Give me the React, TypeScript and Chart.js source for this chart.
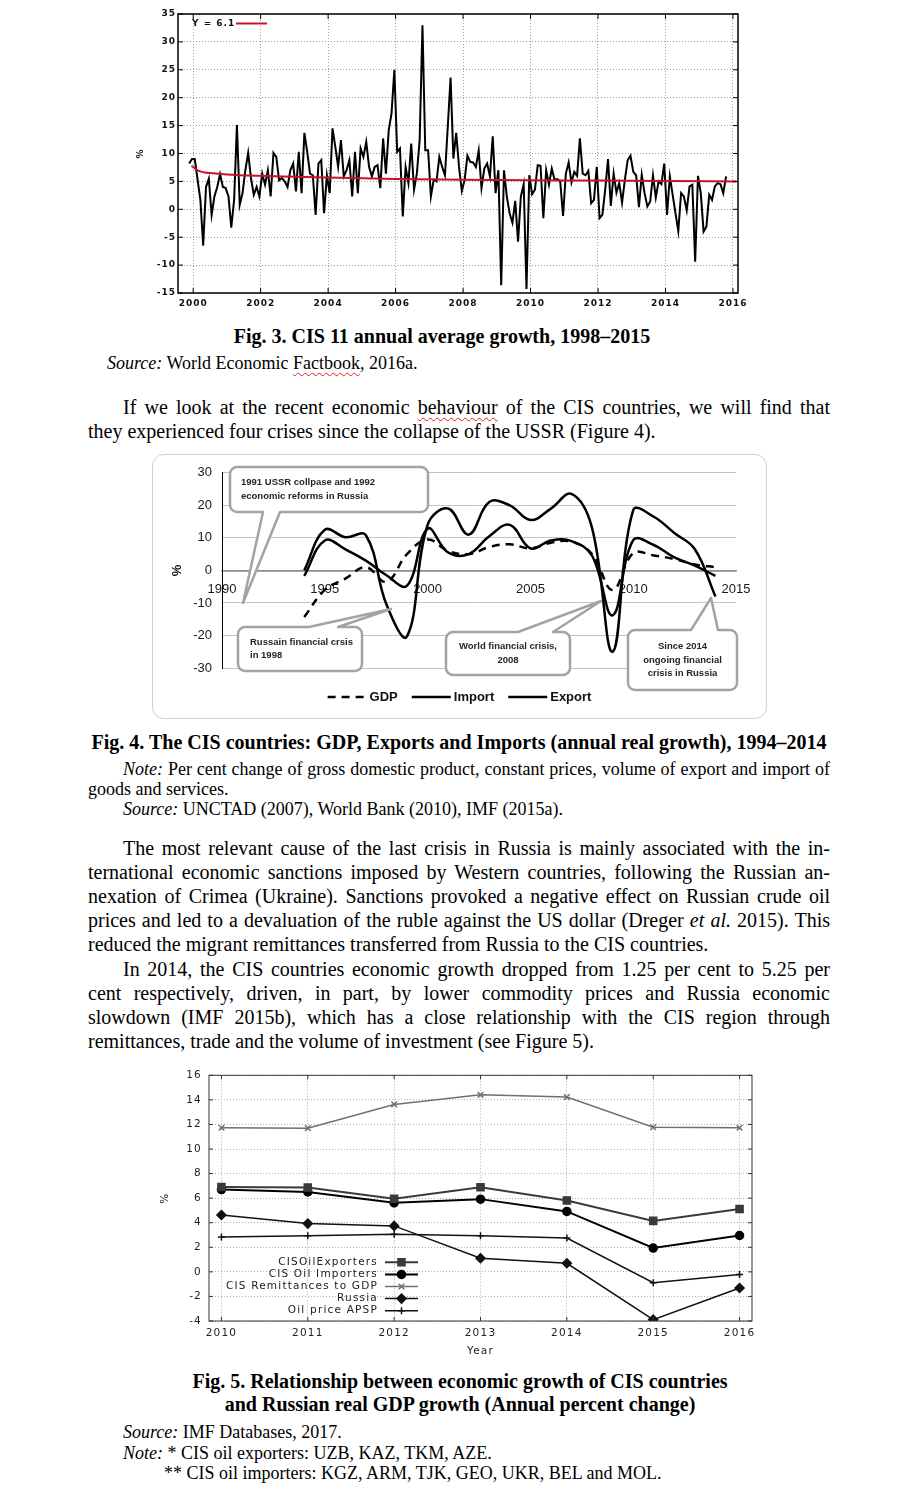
import React, { useEffect, useRef } from 'react';
import { Chart, registerables } from 'chart.js';
import { drawPoint } from 'chart.js/helpers';

Chart.register(...registerables);

/* ================= Fig. 3 data ================= */
const fig3StartYear = 1999.88;
const fig3MonthlyGrowth = [
  8.2, 9.0, 9.0, 5.3, 1.7, -6.5, 4.0, 5.5, -1.0, 2.3, 4.0, 6.3, 4.0, 3.8, 2.3, -3.3, 1.7, 15.1, 0.8, 2.9,
  7.0, 10.1, 5.6, 2.6, 4.0, 2.3, 6.4, 4.4, 7.0, 2.3, 10.1, 9.4, 5.2, 5.6, 5.0, 4.0, 7.0, 8.2, 3.2, 10.3,
  2.9, 13.7, 10.3, 6.4, 6.1, -1.0, 8.2, 8.8, -0.7, 6.1, 2.9, 14.5, 11.2, 7.6, 12.4, 5.9, 7.0, 8.8, 2.3, 10.3,
  2.9, 10.9, 9.4, 12.1, 7.6, 5.9, 7.6, 7.9, 3.8, 12.7, 6.4, 14.2, 17.2, 25.0, 10.3, 10.9, -1.3, 7.6, 4.7, 11.8,
  3.5, 6.4, 12.4, 33.0, 10.6, 10.6, 2.3, 5.3, 5.0, 9.4, 7.6, 6.1, 14.8, 23.6,
  9.1, 13.7, 7.6, 3.3, 5.3, 9.6, 8.5, 8.4, 7.6, 10.5, 3.8, 7.3, 8.2, 5.9, 13.1, 2.9, 7.0, -13.6, 7.0, 2.3,
  -0.7, -2.4, 1.5, -5.8, 2.3, 4.5, -14.3, 6.1, 2.7, 3.5, 7.9, 7.8, -1.6, 7.0, 4.4, 7.3, 5.3, 5.4, 5.0, -1.2,
  6.4, 8.4, 4.8, 6.7, 6.0, 12.7, 6.4, 6.1, 6.9, 1.1, 1.7, 7.6, -1.6, -1.0, 3.5, 9.0, 0.6, 6.4, 3.0, 4.7,
  1.2, 5.3, 8.8, 9.6, 6.7, 6.1, 0.4, 6.2, 2.9, 0.5, 1.4, 6.1, 2.1, 5.0, 4.5, 8.2, -1.0, 5.9, 2.6, -0.7,
  -3.9, 2.9, 2.3, -0.2, 4.1, 4.4, -9.4, 6.0, 2.9, -4.0, -3.1, 2.6, 1.7, 4.1, 4.7, 4.5, 2.9, 5.9,
];
const fig3TrendYears = [1999.95, 2000.12, 2000.3, 2000.6, 2001, 2002, 2003, 2004, 2006, 2008, 2010, 2012, 2014, 2016.1];
const fig3TrendValues = [7.8, 7.0, 6.65, 6.45, 6.25, 6.0, 5.85, 5.7, 5.45, 5.3, 5.2, 5.15, 5.05, 5.0];
const fig3TrendLabel = 'Y = 6.1';
const fig3XTicks = [2000, 2002, 2004, 2006, 2008, 2010, 2012, 2014, 2016];
const fig3YTicks = [-15, -10, -5, 0, 5, 10, 15, 20, 25, 30, 35];

/* ================= Fig. 4 data ================= */
const fig4Years = [1994, 1995, 1996, 1997, 1998, 1999, 2000, 2001, 2002, 2003, 2004, 2005, 2006, 2007, 2008, 2009, 2010, 2011, 2012, 2013, 2014];
const fig4Gdp = [-14.3, -6.0, -2.5, 1.0, -3.5, 5.0, 9.5, 6.0, 5.0, 7.2, 8.0, 6.8, 8.5, 8.8, 5.0, -6.0, 5.3, 4.6, 3.5, 1.8, 1.0];
const fig4Import = [0, 12.5, 10.2, 10.8, -10.5, -20.3, 14, 19, 11, 21, 20, 15.5, 19, 23.5, 13, -25, 18.5, 16.5, 11.5, 6.5, -8];
const fig4Export = [-1.7, 9.2, 6.5, 3.0, -1.5, -4.7, 12.8, 5.5, 5.0, 10.5, 14.0, 6.8, 9.2, 9.0, 4.5, -13.8, 9.3, 7.8, 4.0, 1.5, -1.7];
const fig4XTicks = [1990, 1995, 2000, 2005, 2010, 2015];
const fig4YTicks = [-30, -20, -10, 0, 10, 20, 30];
const fig4CalloutTexts = [
  ['1991 USSR collpase and 1992', 'economic reforms in Russia'],
  ['Russain financial crsis', 'in 1998'],
  ['World financial crisis,', '2008'],
  ['Since 2014', 'ongoing financial', 'crisis in Russia'],
];

/* ================= Fig. 5 data ================= */
const fig5Years = [2010, 2011, 2012, 2013, 2014, 2015, 2016];
const fig5OilExporters = [6.91, 6.86, 5.95, 6.89, 5.81, 4.15, 5.11];
const fig5OilImporters = [6.70, 6.51, 5.62, 5.92, 4.92, 1.94, 2.96];
const fig5Remittances = [11.73, 11.70, 13.63, 14.41, 14.23, 11.78, 11.73];
const fig5Russia = [4.63, 3.93, 3.74, 1.11, 0.70, -3.89, -1.31];
const fig5OilPrice = [2.83, 2.94, 3.07, 2.94, 2.75, -0.88, -0.21];
const fig5YTicks = [-4, -2, 0, 2, 4, 6, 8, 10, 12, 14, 16];

/* ================= helpers ================= */
const toPts = (xs: number[], ys: number[]) => xs.map((x, i) => ({ x, y: ys[i] }));
const fixedTicks = (values: number[]) => (s: any) => {
  s.ticks = values.map((value) => ({ value }));
};

function gnuplotFrame(id: string, frameColor: string, frameWidth: number, tickLen: number, spacing: string, extra?: (c: any) => void) {
  return {
    id,
    beforeDraw(chart: any) {
      chart.ctx.letterSpacing = spacing;
    },
    afterDraw(chart: any) {
      const { ctx, chartArea: a, scales } = chart;
      ctx.save();
      ctx.setLineDash([]);
      ctx.strokeStyle = frameColor;
      ctx.lineWidth = 1;
      ctx.beginPath();
      scales.y.ticks.forEach((t: any) => {
        const y = scales.y.getPixelForValue(t.value);
        ctx.moveTo(a.left, y);
        ctx.lineTo(a.left + tickLen, y);
        ctx.moveTo(a.right, y);
        ctx.lineTo(a.right - tickLen, y);
      });
      scales.x.ticks.forEach((t: any) => {
        const x = scales.x.getPixelForValue(t.value);
        ctx.moveTo(x, a.bottom);
        ctx.lineTo(x, a.bottom - tickLen);
        ctx.moveTo(x, a.top);
        ctx.lineTo(x, a.top + tickLen);
      });
      ctx.stroke();
      ctx.lineWidth = frameWidth;
      ctx.strokeRect(a.left, a.top, a.right - a.left, a.bottom - a.top);
      ctx.restore();
      if (extra) extra(chart);
      ctx.letterSpacing = '0px';
    },
  };
}

/* ================= Fig. 3 config ================= */
function fig3Config(): any {
  const font = { family: "'DejaVu Sans', sans-serif", size: 9, weight: 'bold' };
  const grid = { color: '#a0a0a0', lineWidth: 1, drawTicks: false, borderDash: [1, 2] };
  const border = { display: false, dash: [1, 2] };
  return {
    type: 'line',
    data: {
      datasets: [
        {
          label: fig3TrendLabel,
          data: toPts(fig3TrendYears, fig3TrendValues),
          borderColor: '#c8102e',
          borderWidth: 2,
          pointRadius: 0,
          cubicInterpolationMode: 'monotone',
        },
        {
          label: 'CIS 11 growth',
          data: fig3MonthlyGrowth.map((v, i) => ({ x: fig3StartYear + i / 12, y: v })),
          borderColor: '#000',
          borderWidth: 2,
          pointRadius: 0,
          tension: 0,
        },
      ],
    },
    options: {
      animation: false,
      responsive: true,
      maintainAspectRatio: false,
      layout: { padding: { top: 10, right: 24, left: 0, bottom: 0 } },
      plugins: { legend: { display: false }, tooltip: { enabled: false } },
      scales: {
        x: {
          type: 'linear',
          min: 1999.55,
          max: 2016.15,
          afterBuildTicks: fixedTicks(fig3XTicks),
          afterFit: (s: any) => { s.height = 21; },
          grid,
          border,
          ticks: { font, color: '#111', padding: 5, maxRotation: 0, autoSkip: false, callback: (v: any) => String(v) },
        },
        y: {
          type: 'linear',
          min: -15,
          max: 35,
          afterBuildTicks: fixedTicks(fig3YTicks),
          afterFit: (s: any) => { s.width = 48; },
          grid,
          border,
          ticks: { font, color: '#111', padding: 2, autoSkip: false, callback: (v: any) => String(v) },
          title: { display: true, text: '%', font, color: '#111', padding: { top: 5.6, bottom: 0 } },
        },
      },
    },
    plugins: [
      gnuplotFrame('fig3Frame', '#000', 1.5, 5, '1px', (chart: any) => {
        const { ctx, chartArea: a } = chart;
        const ds = chart.data.datasets[0];
        ctx.save();
        ctx.font = "bold 9px 'DejaVu Sans', sans-serif";
        ctx.fillStyle = '#111';
        ctx.textBaseline = 'middle';
        ctx.textAlign = 'left';
        ctx.fillText(ds.label, a.left + 14, a.top + 9.5);
        ctx.strokeStyle = ds.borderColor;
        ctx.lineWidth = 2;
        ctx.beginPath();
        ctx.moveTo(a.left + 58, a.top + 9.5);
        ctx.lineTo(a.left + 89, a.top + 9.5);
        ctx.stroke();
        ctx.restore();
      }),
    ],
  };
}

/* ================= Fig. 4 config ================= */
function bubblePath(ctx: any, x: number, y: number, w: number, h: number, r: number, side: string, b1: number, b2: number, tx: number, ty: number) {
  ctx.beginPath();
  ctx.moveTo(x + r, y);
  if (side === 'top') {
    ctx.lineTo(b1, y);
    ctx.lineTo(tx, ty);
    ctx.lineTo(b2, y);
  }
  ctx.lineTo(x + w - r, y);
  ctx.arcTo(x + w, y, x + w, y + r, r);
  ctx.lineTo(x + w, y + h - r);
  ctx.arcTo(x + w, y + h, x + w - r, y + h, r);
  if (side === 'bottom') {
    ctx.lineTo(b2, y + h);
    ctx.lineTo(tx, ty);
    ctx.lineTo(b1, y + h);
  }
  ctx.lineTo(x + r, y + h);
  ctx.arcTo(x, y + h, x, y + h - r, r);
  ctx.lineTo(x, y + r);
  ctx.arcTo(x, y, x + r, y, r);
  ctx.closePath();
}

const fig4Decor = {
  id: 'fig4Decor',
  afterDatasetsDraw(chart: any) {
    const { ctx } = chart;
    // geometry of the four annotation bubbles (canvas pixels)
    const geo = [
      { x: 77, y: 12, w: 198, h: 45, side: 'bottom', b1: 110, b2: 127, tx: 90, ty: 148, align: 'left', pad: 11 },
      { x: 85, y: 172, w: 124, h: 44, side: 'top', b1: 156, b2: 185, tx: 238, ty: 154, align: 'left', pad: 12 },
      { x: 293, y: 177, w: 124, h: 43, side: 'top', b1: 365, b2: 400, tx: 448, ty: 146, align: 'center', pad: 0 },
      { x: 475, y: 175, w: 109, h: 60, side: 'top', b1: 538, b2: 565, tx: 558, ty: 143, align: 'center', pad: 0 },
    ];
    ctx.save();
    geo.forEach((g, i) => {
      bubblePath(ctx, g.x, g.y, g.w, g.h, 7, g.side, g.b1, g.b2, g.tx, g.ty);
      ctx.fillStyle = '#fff';
      ctx.fill();
      ctx.setLineDash([]);
      ctx.lineWidth = 2.5;
      ctx.strokeStyle = '#a3a3a3';
      ctx.lineJoin = 'round';
      ctx.stroke();
      const lines = fig4CalloutTexts[i];
      ctx.font = "bold 9.5px 'Liberation Sans', Arial, sans-serif";
      ctx.fillStyle = '#262626';
      ctx.textBaseline = 'middle';
      ctx.textAlign = g.align === 'left' ? 'left' : 'center';
      const gap = 13.5;
      const cy = g.y + g.h / 2 - ((lines.length - 1) * gap) / 2;
      const tx = g.align === 'left' ? g.x + g.pad : g.x + g.w / 2;
      lines.forEach((t, k) => ctx.fillText(t, tx, cy + k * gap));
    });
    ctx.restore();
  },
  afterDraw(chart: any) {
    const { ctx, width, chartArea } = chart;
    ctx.save();
    ctx.font = "bold 13px 'Liberation Sans', Arial, sans-serif";
    ctx.fillStyle = '#111';
    ctx.textBaseline = 'middle';
    ctx.textAlign = 'left';
    const lineLen = 39;
    const gap = 3;
    const sep = 14;
    const items = chart.data.datasets.map((ds: any) => ({ label: ds.label, dash: ds.borderDash || [], w: ctx.measureText(ds.label).width }));
    const total = items.reduce((s: number, it: any) => s + lineLen + gap + it.w, 0) + sep * (items.length - 1);
    let x = width / 2 - total / 2;
    const y = chartArea.bottom + 29;
    items.forEach((it: any) => {
      ctx.setLineDash(it.dash);
      ctx.lineWidth = 2.5;
      ctx.strokeStyle = '#000';
      ctx.beginPath();
      ctx.moveTo(x, y);
      ctx.lineTo(x + lineLen, y);
      ctx.stroke();
      ctx.setLineDash([]);
      ctx.fillText(it.label, x + lineLen + gap, y + 0.5);
      x += lineLen + gap + it.w + sep;
    });
    ctx.restore();
  },
};

function fig4Config(): any {
  const font = { family: "'Liberation Sans', Arial, sans-serif", size: 13 };
  const common = { borderColor: '#000', borderWidth: 2.5, pointRadius: 0, tension: 0.4, fill: false };
  return {
    type: 'line',
    data: {
      datasets: [
        { ...common, label: 'GDP', data: toPts(fig4Years, fig4Gdp), borderDash: [8, 6] },
        { ...common, label: 'Import', data: toPts(fig4Years, fig4Import) },
        { ...common, label: 'Export', data: toPts(fig4Years, fig4Export) },
      ],
    },
    options: {
      animation: false,
      responsive: true,
      maintainAspectRatio: false,
      layout: { padding: { top: 13, right: 30, left: 0, bottom: 50 } },
      plugins: { legend: { display: false }, tooltip: { enabled: false } },
      scales: {
        x: {
          type: 'linear',
          position: { y: 0 },
          min: 1990,
          max: 2015,
          afterBuildTicks: fixedTicks(fig4XTicks),
          grid: { display: false, drawTicks: false },
          border: { display: true, color: '#8c8c8c', width: 1.5 },
          ticks: { font, color: '#1a1a1a', padding: 11, maxRotation: 0, autoSkip: false, callback: (v: any) => String(v) },
        },
        y: {
          type: 'linear',
          min: -30,
          max: 30,
          afterBuildTicks: fixedTicks(fig4YTicks),
          afterFit: (s: any) => { s.width = 69; },
          grid: {
            color: (c: any) => (c.tick && c.tick.value === 0 ? '#8c8c8c' : '#c4c4c4'),
            lineWidth: (c: any) => (c.tick && c.tick.value === 0 ? 1.5 : 1),
            drawTicks: false,
          },
          border: { display: true, color: '#000', width: 1 },
          ticks: { font, color: '#1a1a1a', padding: 10, autoSkip: false, callback: (v: any) => String(v) },
          title: { display: true, text: '%', font: { ...font, weight: 'bold' }, color: '#111', padding: { top: 17, bottom: 0 } },
        },
      },
    },
    plugins: [fig4Decor],
  };
}

/* ================= Fig. 5 config ================= */
function fig5Config(): any {
  const font = { family: "'DejaVu Sans', sans-serif", size: 10.5 };
  const grid = { color: '#b0b0b0', lineWidth: 1, drawTicks: false, borderDash: [1, 2] };
  const border = { display: false, dash: [1, 2] };
  const mk = (label: string, values: number[], color: string, width: number, style: string, radius: number) => ({
    label,
    data: toPts(fig5Years, values),
    borderColor: color,
    backgroundColor: color,
    pointBackgroundColor: color,
    pointBorderColor: color,
    borderWidth: width,
    pointBorderWidth: 1.5,
    pointStyle: style,
    pointRadius: radius,
    tension: 0,
  });
  return {
    type: 'line',
    data: {
      datasets: [
        mk('CISOilExporters', fig5OilExporters, '#3a3a3a', 2, 'rect', 5),
        mk('CIS Oil Importers', fig5OilImporters, '#000000', 2, 'circle', 4),
        mk('CIS Remittances to GDP', fig5Remittances, '#707070', 1.5, 'crossRot', 4),
        mk('Russia', fig5Russia, '#111111', 1.5, 'rectRot', 4.5),
        mk('Oil price APSP', fig5OilPrice, '#111111', 1.5, 'cross', 3.5),
      ],
    },
    options: {
      animation: false,
      responsive: true,
      maintainAspectRatio: false,
      layout: { padding: { top: 11, right: 20, left: 0, bottom: 0 } },
      plugins: { legend: { display: false }, tooltip: { enabled: false } },
      scales: {
        x: {
          type: 'linear',
          min: 2009.856,
          max: 2016.144,
          afterBuildTicks: fixedTicks(fig5Years),
          afterFit: (s: any) => { s.height = 41; },
          grid,
          border,
          ticks: { font, color: '#222', padding: 6, maxRotation: 0, autoSkip: false, callback: (v: any) => String(v) },
          title: { display: true, text: 'Year', font, color: '#222', padding: { top: 0, bottom: 4 } },
        },
        y: {
          type: 'linear',
          min: -4,
          max: 16,
          afterBuildTicks: fixedTicks(fig5YTicks),
          afterFit: (s: any) => { s.width = 69; },
          grid,
          border,
          ticks: { font, color: '#222', padding: 7, autoSkip: false, callback: (v: any) => String(v) },
          title: { display: true, text: '%', font, color: '#222', padding: { top: 19, bottom: 0 } },
        },
      },
    },
    plugins: [
      gnuplotFrame('fig5Frame', '#333', 1, 4, '1.2px', (chart: any) => {
        const { ctx, chartArea: a } = chart;
        ctx.save();
        ctx.font = "10.5px 'DejaVu Sans', sans-serif";
        ctx.textAlign = 'right';
        ctx.textBaseline = 'middle';
        chart.data.datasets.forEach((ds: any, i: number) => {
          const y = a.bottom - 58.7 + i * 12.1;
          ctx.fillStyle = '#222';
          ctx.fillText(ds.label, a.left + 169, y);
          ctx.strokeStyle = ds.borderColor;
          ctx.lineWidth = ds.borderWidth;
          ctx.beginPath();
          ctx.moveTo(a.left + 176, y);
          ctx.lineTo(a.left + 209, y);
          ctx.stroke();
          ctx.fillStyle = ds.pointBackgroundColor;
          ctx.lineWidth = ds.pointBorderWidth;
          drawPoint(ctx, { pointStyle: ds.pointStyle, radius: ds.pointRadius, rotation: 0, borderWidth: ds.pointBorderWidth }, a.left + 192.5, y);
        });
        ctx.restore();
      }),
    ],
  };
}

/* ================= components ================= */
function ChartBox({ config, left, top, width, height }: any) {
  const ref = useRef<HTMLCanvasElement | null>(null);
  useEffect(() => {
    const chart = new Chart(ref.current as HTMLCanvasElement, config());
    return () => chart.destroy();
  }, []);
  return (
    <div style={{ position: 'absolute', left, top, width, height }}>
      <canvas ref={ref} />
    </div>
  );
}

const serif = "'Liberation Serif', 'Times New Roman', Times, serif";
const wavy: React.CSSProperties = {
  textDecorationLine: 'underline',
  textDecorationStyle: 'wavy',
  textDecorationColor: '#e02020',
  textDecorationThickness: '1px',
  textUnderlineOffset: '3px',
};

function Lines({ top, left = 88, width = 742, size = 20, lh = 24, indent = 35, lines, justifyLast = false }: any) {
  return (
    <div style={{ position: 'absolute', top, left, width, fontFamily: serif, fontSize: size, lineHeight: `${lh}px`, color: '#000' }}>
      {lines.map((ln: any, i: number) => (
        <div
          key={i}
          style={{
            textIndent: i === 0 ? indent : 0,
            textAlign: 'justify',
            textAlignLast: i === lines.length - 1 && !justifyLast ? 'left' : 'justify',
            whiteSpace: 'normal',
          }}
        >
          {ln}
        </div>
      ))}
    </div>
  );
}

export default function App() {
  return (
    <div style={{ position: 'absolute', left: 0, top: 0, width: 910, height: 1494, background: '#fff', overflow: 'hidden' }}>
      {/* Fig. 3 */}
      <ChartBox config={fig3Config} left={130} top={4} width={632} height={310} />
      <div style={{ position: 'absolute', top: 324, left: 0, width: 884, textAlign: 'center', fontFamily: serif, fontSize: 20, fontWeight: 'bold', lineHeight: '24px' }}>
        Fig. 3. CIS 11 annual average growth, 1998–2015
      </div>
      <div style={{ position: 'absolute', top: 353, left: 107, fontFamily: serif, fontSize: 18, lineHeight: '20px', whiteSpace: 'nowrap' }}>
        <i>Source:</i> World Economic <span style={wavy}>Factbook</span>, 2016a.
      </div>

      <Lines
        top={395}
        lines={[
          <>If we look at the recent economic <span style={wavy}>behaviour</span> of the CIS countries, we will find that</>,
          <>they experienced four crises since the collapse of the USSR (Figure 4).</>,
        ]}
      />

      {/* Fig. 4 */}
      <div style={{ position: 'absolute', left: 152, top: 454, width: 615, height: 265, boxSizing: 'border-box', border: '1.5px solid #d2d2d2', borderRadius: 12 }} />
      <ChartBox config={fig4Config} left={153} top={455} width={613} height={263} />
      <div style={{ position: 'absolute', top: 730, left: 88, width: 742, textAlign: 'center', fontFamily: serif, fontSize: 20, fontWeight: 'bold', lineHeight: '24px', whiteSpace: 'nowrap' }}>
        Fig. 4. The CIS countries: GDP, Exports and Imports (annual real growth), 1994–2014
      </div>
      <Lines
        top={759}
        size={18}
        lh={20}
        lines={[
          <><i>Note:</i> Per cent change of gross domestic product, constant prices, volume of export and import of</>,
          <>goods and services.</>,
        ]}
      />
      <div style={{ position: 'absolute', top: 799, left: 123, fontFamily: serif, fontSize: 18, lineHeight: '20px', whiteSpace: 'nowrap' }}>
        <i>Source:</i> UNCTAD (2007), World Bank (2010), IMF (2015a).
      </div>

      <Lines
        top={836}
        lines={[
          <>The most relevant cause of the last crisis in Russia is mainly associated with the in-</>,
          <>ternational economic sanctions imposed by Western countries, following the Russian an-</>,
          <>nexation of Crimea (Ukraine). Sanctions provoked a negative effect on Russian crude oil</>,
          <>prices and led to a devaluation of the ruble against the US dollar (Dreger <i>et al.</i> 2015). This</>,
          <>reduced the migrant remittances transferred from Russia to the CIS countries.</>,
        ]}
      />
      <Lines
        top={957}
        lines={[
          <>In 2014, the CIS countries economic growth dropped from 1.25 per cent to 5.25 per</>,
          <>cent respectively, driven, in part, by lower commodity prices and Russia economic</>,
          <>slowdown (IMF 2015b), which has a close relationship with the CIS region through</>,
          <>remittances, trade and the volume of investment (see Figure 5).</>,
        ]}
      />

      {/* Fig. 5 */}
      <ChartBox config={fig5Config} left={140} top={1062} width={632} height={300} />
      <div style={{ position: 'absolute', top: 1370, left: 88, width: 744, textAlign: 'center', fontFamily: serif, fontSize: 20, fontWeight: 'bold', lineHeight: '23px' }}>
        <div>Fig. 5. Relationship between economic growth of CIS countries</div>
        <div>and Russian real GDP growth (Annual percent change)</div>
      </div>
      <div style={{ position: 'absolute', top: 1422, left: 123, fontFamily: serif, fontSize: 18, lineHeight: '20.5px', whiteSpace: 'nowrap' }}>
        <div><i>Source:</i> IMF Databases, 2017.</div>
        <div><i>Note:</i> * CIS oil exporters: UZB, KAZ, TKM, AZE.</div>
        <div style={{ paddingLeft: 41 }}>** CIS oil importers: KGZ, ARM, TJK, GEO, UKR, BEL and MOL.</div>
      </div>
    </div>
  );
}
